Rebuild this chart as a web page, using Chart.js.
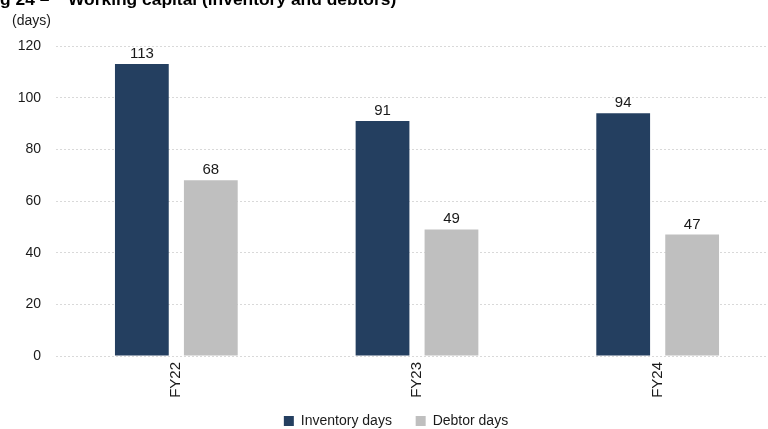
<!DOCTYPE html>
<html>
<head>
<meta charset="utf-8">
<script src="https://cdn.jsdelivr.net/npm/chart.js@4/dist/chart.umd.min.js"></script>
<style>
  html, body { margin: 0; padding: 0; overflow: hidden; background: #fff; }
  #wrap { width: 790px; height: 438px; }
</style>
</head>
<body>
<div id="wrap"><canvas id="chart-area" width="790" height="438"></canvas></div>
<script>
var categories = ["FY22", "FY23", "FY24"];
var inventoryDays = [113, 91, 94];
var debtorDays = [68, 49, 47];
var yTicks = [0, 20, 40, 60, 80, 100, 120];

var fontFam = "'Liberation Sans', Arial, sans-serif";

// value labels above bars, title and unit label
var extras = {
  id: 'extras',
  afterDatasetsDraw: function(chart) {
    var ctx = chart.ctx;
    ctx.save();
    ctx.font = "15px " + fontFam;
    ctx.fillStyle = "#1a1a1a";
    ctx.textAlign = "center";
    ctx.textBaseline = "alphabetic";
    chart.data.datasets.forEach(function(ds, i) {
      chart.getDatasetMeta(i).data.forEach(function(bar, j) {
        ctx.fillText(ds.data[j], bar.x, bar.y - 6);
      });
    });
    ctx.restore();
  },
  afterDraw: function(chart) {
    var ctx = chart.ctx;
    ctx.save();
    ctx.fillStyle = "#000";
    ctx.font = "bold 17.4px 'Liberation Sans', Arial, sans-serif";
    ctx.textBaseline = "alphabetic";
    ctx.textAlign = "left";
    var pre = ctx.measureText("Fi").width;
    ctx.fillText("Fig 24 \u2013", -pre, 5);
    ctx.fillText("Working capital (inventory and debtors)", 68, 5);
    ctx.font = "14px " + fontFam;
    ctx.fillStyle = "#1a1a1a";
    ctx.textBaseline = "middle";
    ctx.fillText("(days)", 12, 21);
    ctx.restore();
  }
};

var config = {
  type: 'bar',
  data: {
    labels: categories,
    datasets: [{
      label: 'Inventory days',
      data: inventoryDays,
      backgroundColor: "#243F60",
      barPercentage: 0.78,
      categoryPercentage: 0.573
    }, {
      label: 'Debtor days',
      data: debtorDays,
      backgroundColor: "#BFBFBF",
      barPercentage: 0.78,
      categoryPercentage: 0.573
    }]
  },
  options: {
    responsive: false,
    animation: false,
    layout: { padding: { top: 46, left: 14, right: 12, bottom: 0 } },
    plugins: {
      legend: {
        position: 'bottom',
        labels: {
          boxWidth: 10,
          boxHeight: 10,
          padding: 16,
          color: "#1a1a1a",
          font: { family: fontFam, size: 14 },
          generateLabels: function(chart) {
            var items = Chart.defaults.plugins.legend.labels.generateLabels(chart);
            // a bit more room between the two entries
            items[0].text = items[0].text + "  ";
            return items;
          }
        }
      },
      tooltip: { enabled: false }
    },
    scales: {
      x: {
        grid: { display: false, drawTicks: false },
        border: { display: false },
        ticks: {
          color: "#1a1a1a",
          font: { family: fontFam, size: 15 },
          minRotation: 90,
          maxRotation: 90,
          padding: 6
        },
        afterFit: function(scale) { scale.height = 42; }
      },
      y: {
        min: 0,
        max: 120,
        afterBuildTicks: function(scale) {
          scale.ticks = yTicks.map(function(v) { return { value: v }; });
        },
        grid: { color: "#d9d9d9", drawTicks: false },
        border: { display: false, dash: [2, 2] },
        ticks: {
          color: "#1a1a1a",
          font: { family: fontFam, size: 14 },
          padding: 15
        },
        afterFit: function(scale) { scale.width = 42; }
      }
    }
  },
  plugins: [extras]
};

window.onload = function() {
  var ctx = document.getElementById("chart-area").getContext("2d");
  window.myBar = new Chart(ctx, config);
};
</script>
</body>
</html>
